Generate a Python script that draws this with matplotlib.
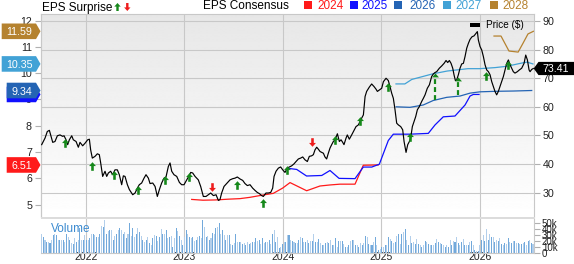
import numpy as np
import matplotlib
matplotlib.use("Agg")
import matplotlib.pyplot as plt
from matplotlib.path import Path
from matplotlib.patches import Polygon, Rectangle

plt.rcParams['font.family'] = ['Liberation Sans', 'DejaVu Sans']

# ------------------------------------------------------------------ data
price_dates_a = [2021.553, 2021.587, 2021.610, 2021.631, 2021.648, 2021.665, 2021.688, 2021.712, 2021.739, 2021.766,
                 2021.780, 2021.800, 2021.817, 2021.834, 2021.858, 2021.874, 2021.902, 2021.925, 2021.942, 2021.969,
                 2021.993, 2022.020, 2022.037, 2022.050, 2022.067, 2022.094, 2022.118, 2022.138, 2022.152, 2022.172,
                 2022.196, 2022.213, 2022.230, 2022.253, 2022.274, 2022.297, 2022.321, 2022.341, 2022.365, 2022.382,
                 2022.399, 2022.423, 2022.443, 2022.477, 2022.501, 2022.524, 2022.544, 2022.568, 2022.592, 2022.612,
                 2022.636, 2022.653, 2022.680, 2022.704, 2022.727, 2022.748, 2022.771, 2022.795, 2022.815, 2022.839,
                 2022.856, 2022.873, 2022.896, 2022.924, 2022.951, 2022.974, 2022.998, 2023.018, 2023.042, 2023.066,
                 2023.086, 2023.110, 2023.143, 2023.167, 2023.194, 2023.221, 2023.245, 2023.269, 2023.296, 2023.323,
                 2023.347, 2023.363, 2023.380, 2023.404, 2023.431]
price_vals_a = [46.8, 49.1, 51.4, 51.8, 49.7, 47.6, 47.9, 49.9, 50.2, 49.7,
                49.9, 48.5, 46.8, 48.5, 49.9, 48.5, 47.9, 45.9, 47.6, 46.4,
                47.3, 48.5, 48.7, 45.0, 42.1, 42.7, 43.6, 43.3, 40.4, 35.7,
                37.5, 35.7, 36.9, 37.5, 36.3, 38.0, 38.0, 36.3, 32.8, 35.9,
                35.7, 32.8, 31.1, 29.3, 29.9, 31.6, 32.8, 33.4, 35.1, 36.3,
                35.1, 33.2, 33.4, 32.2, 28.7, 31.1, 33.4, 35.1, 35.5, 39.2,
                40.4, 37.5, 36.3, 35.7, 33.6, 32.8, 32.8, 34.0, 35.5, 37.1,
                36.9, 35.7, 34.5, 32.2, 28.7, 28.7, 29.3, 29.9, 29.0, 29.3,
                27.3, 27.6, 29.9, 32.2, 33.2]

price_dates_b = [2023.465, 2023.492, 2023.516, 2023.539, 2023.567, 2023.594, 2023.617, 2023.641, 2023.668, 2023.695,
                 2023.719, 2023.742, 2023.763, 2023.786, 2023.803, 2023.830, 2023.854, 2023.878, 2023.898, 2023.912,
                 2023.932, 2023.956, 2023.979, 2024.000, 2024.023, 2024.047, 2024.067, 2024.091, 2024.115, 2024.135,
                 2024.159, 2024.182, 2024.203, 2024.226, 2024.250, 2024.270, 2024.294, 2024.311, 2024.328, 2024.345,
                 2024.362, 2024.379, 2024.396, 2024.413, 2024.429, 2024.446, 2024.463, 2024.480, 2024.497, 2024.514,
                 2024.531, 2024.555, 2024.575, 2024.592, 2024.609, 2024.622, 2024.643, 2024.656, 2024.676, 2024.700,
                 2024.724, 2024.744, 2024.768, 2024.785, 2024.802, 2024.819, 2024.836, 2024.852, 2024.879, 2024.903,
                 2024.927, 2024.947, 2024.961, 2024.981]
price_vals_b = [34.5, 34.9, 35.1, 35.5, 34.8, 34.3, 33.2, 32.5, 32.8, 31.6,
                30.8, 30.1, 29.7, 29.0, 28.7, 29.9, 29.9, 30.1, 31.6, 35.7,
                37.5, 38.6, 39.0, 38.0, 37.1, 38.6, 39.0, 39.4, 40.1, 40.9,
                41.8, 42.1, 42.5, 41.5, 40.9, 42.7, 42.9, 43.3, 45.0, 45.9,
                45.2, 44.4, 44.1, 43.8, 42.5, 41.8, 43.8, 45.6, 46.8, 47.9,
                48.5, 50.6, 47.9, 48.5, 47.6, 46.8, 49.1, 50.2, 48.7, 50.2,
                51.8, 53.1, 53.7, 54.9, 56.1, 57.2, 63.6, 65.4, 66.9, 68.0,
                67.1, 66.2, 65.4, 65.9]

price_dates_c = [2025.005, 2025.022, 2025.049, 2025.072, 2025.089, 2025.106, 2025.123, 2025.140, 2025.157, 2025.174,
                 2025.198, 2025.218, 2025.232, 2025.252, 2025.269, 2025.286, 2025.299, 2025.316, 2025.333, 2025.350,
                 2025.367, 2025.387, 2025.411, 2025.428, 2025.445, 2025.468, 2025.489, 2025.512, 2025.529, 2025.546,
                 2025.563, 2025.590, 2025.614, 2025.638, 2025.658, 2025.675, 2025.692, 2025.709, 2025.726, 2025.739,
                 2025.753, 2025.766, 2025.783, 2025.800, 2025.817, 2025.834, 2025.851, 2025.868, 2025.885, 2025.902,
                 2025.922, 2025.942, 2025.962, 2025.976, 2025.986, 2026.003, 2026.020, 2026.037, 2026.054, 2026.071,
                 2026.088, 2026.105, 2026.122, 2026.138, 2026.155, 2026.172, 2026.189, 2026.206, 2026.223, 2026.240,
                 2026.257, 2026.274, 2026.291, 2026.308, 2026.325, 2026.341, 2026.358, 2026.382, 2026.402, 2026.426,
                 2026.450, 2026.467, 2026.484, 2026.501, 2026.511, 2026.528, 2026.544]
price_vals_c = [66.5, 68.8, 70.0, 69.2, 67.1, 64.8, 63.0, 59.0, 54.3, 53.7,
                53.1, 52.0, 47.9, 44.1, 46.8, 47.9, 49.1, 53.1, 54.9, 56.6,
                59.0, 60.1, 61.9, 63.0, 64.2, 66.5, 67.7, 70.6, 71.5, 72.0,
                72.3, 73.5, 74.3, 75.2, 76.2, 75.5, 76.2, 75.2, 73.5, 71.2,
                69.2, 69.4, 71.2, 73.5, 75.0, 75.2, 77.6, 80.5, 82.2, 83.6,
                84.5, 84.8, 85.7, 86.3, 83.4, 81.1, 79.9, 77.6, 74.7, 72.9,
                72.3, 71.2, 68.8, 67.1, 65.4, 64.2, 65.4, 67.1, 68.8, 70.6,
                72.9, 75.2, 76.4, 74.7, 73.5, 72.3, 71.8, 72.3, 72.9, 73.5,
                75.2, 78.1, 76.4, 72.9, 72.3, 73.1, 73.41]

last_price = 73.41

eps2024_dates = [2023.076, 2023.19, 2023.314, 2023.45, 2023.566, 2023.668, 2023.803, 2023.904, 2023.999,
                 2024.074, 2024.243, 2024.378, 2024.48, 2024.581, 2024.734, 2024.818, 2024.97]
eps2024 = [5.20, 5.17, 5.18, 5.21, 5.23, 5.28, 5.37, 5.43, 5.63, 5.84, 5.53, 5.71, 5.75, 5.78, 5.78, 6.50, 6.51]

eps2025_dates = [2024.057, 2024.142, 2024.242, 2024.396, 2024.48, 2024.572, 2024.734, 2024.818, 2024.904, 2024.981,
                 2025.072, 2025.123, 2025.292, 2025.478, 2025.546, 2025.63, 2025.749, 2025.851, 2025.902, 2025.935,
                 2025.993]
eps2025 = [6.38, 6.34, 6.09, 6.11, 6.30, 6.00, 5.99, 6.43, 6.43, 6.54, 7.44, 7.68, 7.68, 7.71, 8.03, 8.34, 8.37,
           8.79, 9.13, 9.19, 9.19]

eps2026_dates = [2025.152, 2025.292, 2025.427, 2025.528, 2025.665, 2025.8, 2025.902, 2026.003, 2026.173, 2026.341,
                 2026.528]
eps2026 = [8.72, 8.70, 8.79, 8.96, 9.08, 9.13, 9.24, 9.29, 9.31, 9.32, 9.34]

eps2027_dates = [2025.15, 2025.24, 2025.31, 2025.52, 2025.67, 2025.88, 2026.0, 2026.155, 2026.275, 2026.41, 2026.48,
                 2026.54]
eps2027 = [9.59, 9.59, 9.76, 9.97, 10.08, 10.17, 10.17, 10.21, 10.26, 10.37, 10.42, 10.35]

eps2028_dates = [2026.145, 2026.216, 2026.297, 2026.39, 2026.44, 2026.49, 2026.545]
eps2028 = [11.41, 11.41, 10.84, 10.80, 11.14, 11.49, 11.59]

eps_years = ['2024', '2025', '2026', '2027', '2028']
eps_colors = ['#ff1a1a', '#1010ff', '#2464b4', '#42a2d6', '#b5822f']
eps_badge_labels = ['6.51', '', '9.34', '10.35', '11.59']

up_dates = [2021.79, 2022.067, 2022.287, 2022.534, 2022.805, 2023.052, 2023.533, 2023.797, 2024.047, 2024.531,
            2024.785, 2025.064, 2025.293, 2026.064, 2026.287]
up_prices = [47.3, 39.4, 36.3, 31.1, 34.5, 35.5, 32.8, 26.4, 37.8, 48.3, 54.9, 67.0, 49.3, 70.8, 74.7]
down_dates = [2023.285, 2024.301]
down_prices = [31.9, 47.6]
dashed_dates = [2025.547, 2025.775]
dashed_heads = [72.0, 70.6]
dashed_tails = [62.4, 64.3]

volume_k = [32, 27, 22, 19, 18, 17, 22, 31, 32, 31, 23, 23, 23, 22, 19, 33, 27, 22, 17, 16,
            25, 18, 23, 42, 22, 23, 31, 23, 23, 25, 32, 33, 31, 28, 28, 32, 46, 44, 56, 33,
            38, 39, 39, 23, 29, 32, 39, 42, 39, 32, 36, 25, 32, 51, 29, 42, 28, 32, 42, 36,
            29, 22, 19, 22, 28, 17, 14, 25, 31, 29, 21, 27, 40, 33, 32, 39, 25, 28, 29, 11,
            25, 42, 38, 29, 23, 14, 27, 39, 33, 28, 25, 27, 21, 22, 28, 29, 25, 56, 44, 28,
            29, 22, 25, 34, 33, 42, 44, 50, 32, 39, 31, 22, 31, 31, 16, 14, 17, 32, 18, 19,
            19, 16, 17, 14, 18, 16, 17, 18, 19, 25, 21, 22, 16, 25, 17, 19, 18, 22, 16, 33,
            39, 18, 28, 8, 11, 16, 19, 18, 31,
            31, 22, 21, 18, 17, 17, 22, 28, 26, 18, 18, 22, 17, 20, 21, 32, 18, 18, 24, 17,
            14, 14, 17, 18, 17, 22, 14, 13, 26, 11, 20, 21, 20, 16, 11, 10, 13, 21, 22, 22,
            13, 13, 10, 17, 13, 17, 29, 27, 16, 13, 13, 18, 27, 13, 6, 7, 10, 11, 13, 14,
            27, 24, 21, 17, 18, 29, 33, 16, 32, 35, 41, 22, 14, 29, 17, 18, 16, 24, 16, 13,
            11, 13, 21, 18, 16, 13, 14, 13, 17, 24, 18, 17, 16, 13, 11, 14, 10, 22, 13, 21,
            18, 27, 17, 13, 18, 24, 14, 13, 13, 18, 21, 13, 6, 4, 4, 13, 22, 31, 20, 41,
            22, 33, 27, 28, 18, 22, 21, 26, 16, 14, 17, 16, 26, 18, 17, 20, 20, 17, 17, 16,
            16, 17, 18, 13, 21, 22, 17, 16]
volume_first_date = 2021.553
volume_last_date = 2026.541

year_ticks = [2022, 2023, 2024, 2025, 2026]
year_labels = ['2022', '2023', '2024', '2025', '2026']
price_ticks = [30, 40, 50, 60, 70, 80, 90]
eps_ticks = [5, 6, 7, 8, 9, 10, 11, 12]
vol_ticks = [0, 10, 20, 30, 40, 50]
vol_labels = ['0', '10k', '20k', '30k', '40k', '50k']

# ------------------------------------------------------------------ layout helpers
W, H = 574, 264
XMIN, XMAX = 2021.546, 2026.548
PMIN, PMAX = 21.52, 92.45
EPS_A, EPS_B = 2.191, 0.10878   # eps = A + B * price


def p2e(p):
    return EPS_A + EPS_B * np.asarray(p, dtype=float)


def e2p(e):
    return (np.asarray(e, dtype=float) - EPS_A) / EPS_B


def fx(px):
    return px / W


def fy(py_top):
    return 1 - py_top / H


GRID = '#c8c8c8'
TICKC = '#b0b0b0'
TXT = '#222222'
GREEN = '#15881a'
RED = '#ee1c1c'

fig = plt.figure(figsize=(W / 100, H / 100), dpi=100)
L, R = 41, 533.7
ax = fig.add_axes([fx(L), fy(217), fx(R) - fx(L), fy(14) - fy(217)])
axv = fig.add_axes([fx(L), fy(253.2), fx(R) - fx(L), fy(219.3) - fy(253.2)])

# gradient background
grad = np.linspace(0.905, 1.0, 256).reshape(-1, 1)
ax.imshow(grad, cmap='gray', vmin=0, vmax=1, extent=[0, 1, 0, 1], transform=ax.transAxes,
          aspect='auto', zorder=0, interpolation='bilinear')
ax.set_xlim(XMIN, XMAX)
ax.set_ylim(PMIN, PMAX)
ax.set_axisbelow(True)

# grid
ax.set_xticks(year_ticks)
ax.set_yticks(price_ticks)
ax.grid(True, color=GRID, lw=0.8, zorder=0.5)
ax.yaxis.tick_right()
ax.tick_params(axis='y', length=4.5, width=0.8, color=TICKC, pad=2, labelsize=7.7, labelcolor=TXT)
ax.tick_params(axis='x', length=0, labelbottom=False)
for s in ['left', 'right', 'top']:
    ax.spines[s].set_color(GRID)
    ax.spines[s].set_linewidth(0.8)
ax.spines['bottom'].set_visible(False)

secax = ax.secondary_yaxis('left', functions=(p2e, e2p))
secax.set_yticks(eps_ticks)
secax.tick_params(length=4.5, width=0.8, color=TICKC, pad=2, labelsize=7.7, labelcolor=TXT)
secax.spines['left'].set_color(GRID)
secax.spines['left'].set_linewidth(0.8)

# EPS consensus lines
eps_series = [(eps2024_dates, eps2024), (eps2025_dates, eps2025), (eps2026_dates, eps2026),
              (eps2027_dates, eps2027), (eps2028_dates, eps2028)]
for (d, v), c in zip(eps_series, eps_colors):
    ax.plot(d, e2p(v), color=c, lw=0.9, zorder=3, solid_joinstyle='round')

# price line
price_dates = price_dates_a + price_dates_b + price_dates_c
price_vals = price_vals_a + price_vals_b + price_vals_c
ax.plot(price_dates, price_vals, color='black', lw=0.85, zorder=4)

# EPS surprise arrows
arrow_verts = [(0, 1), (0.8, 0.1), (0.3, 0.1), (0.3, -1), (-0.3, -1), (-0.3, 0.1), (-0.8, 0.1), (0, 1)]
up_path = Path(arrow_verts, closed=True)
down_path = Path([(x, -y) for x, y in arrow_verts], closed=True)
head_path = Path([(0, 0), (0.8, -0.9), (-0.8, -0.9), (0, 0)], closed=True)
ax.plot(up_dates, up_prices, ls='none', marker=up_path, ms=6.2, color=GREEN, mew=0, zorder=6)
ax.plot(down_dates, down_prices, ls='none', marker=down_path, ms=6.2, color=RED, mew=0, zorder=6)
for d, hd, tl in zip(dashed_dates, dashed_heads, dashed_tails):
    ax.plot([d, d], [tl, hd - 1.3], color=GREEN, lw=1.6, ls=(0, (2.2, 1.4)), zorder=6)
    ax.plot([d], [hd], ls='none', marker=head_path, ms=5.6, color=GREEN, mew=0, zorder=6)

# volume panel
axv.set_xlim(XMIN, XMAX)
axv.set_ylim(0, 57)
vdates = np.linspace(volume_first_date, volume_last_date, len(volume_k))
step = vdates[1] - vdates[0]
vcols = ['#b3cfeb' if i % 2 == 0 else '#72a9db' for i in range(len(volume_k))]
axv.bar(vdates, volume_k, width=step * 0.62, color=vcols, linewidth=0, zorder=2)
axv.set_xticks(year_ticks)
axv.set_xticklabels(year_labels)
axv.grid(True, axis='x', color=GRID, lw=0.8, zorder=0.5)
axv.set_axisbelow(True)
axv.yaxis.tick_right()
axv.set_yticks(vol_ticks)
axv.set_yticklabels(vol_labels)
axv.tick_params(axis='y', length=4.5, width=0.8, color=TICKC, pad=1.5, labelsize=7.0, labelcolor=TXT)
axv.tick_params(axis='x', length=0, pad=-0.6, labelsize=7.5, labelcolor=TXT)
for s in ['left', 'top']:
    axv.spines[s].set_visible(False)
for s in ['right', 'bottom']:
    axv.spines[s].set_color(GRID)
    axv.spines[s].set_linewidth(0.8)
fig.text(fx(51), fy(229), 'Volume', color='#3c8bd0', fontsize=8.5, ha='left', va='center')

# separator band
fig.add_artist(Rectangle((fx(L), fy(219.3)), fx(535) - fx(L), fy(216.8) - fy(219.3),
                         transform=fig.transFigure, facecolor='#dcdcdc', edgecolor='none', zorder=5))


# ------------------------------------------------------------------ value badges
def disp_y(price):
    return ax.transData.transform((XMIN, price))[1]


def badge_right(price, left_px, color, label, h=7.8, tip=40.5):
    cy = disp_y(price)
    verts = [(left_px, cy - h), (tip - 4.5, cy - h), (tip, cy), (tip - 4.5, cy + h), (left_px, cy + h)]
    fig.add_artist(Polygon([(x / W, y / H) for x, y in verts], closed=True, transform=fig.transFigure,
                           facecolor=color, edgecolor='none', zorder=10))
    if label:
        fig.text(((left_px + tip - 4.5) / 2 + 0.5) / W, cy / H, label, color='white', fontsize=7.7,
                 ha='center', va='center_baseline', zorder=11)


badge_order = [1, 0, 2, 3, 4]
for i in badge_order:
    val = eps_series[i][1][-1]
    lab = eps_badge_labels[i]
    left = 6.7 if len(lab) <= 4 else 1.7
    badge_right(e2p(val), left, eps_colors[i], lab)

cy = disp_y(last_price)
pv = [(533.7, cy), (538.5, cy + 6.6), (574, cy + 6.6), (574, cy - 6.6), (538.5, cy - 6.6)]
fig.add_artist(Polygon([(x / W, y / H) for x, y in pv], closed=True, transform=fig.transFigure,
                       facecolor='black', edgecolor='none', zorder=10))
fig.text(556 / W, cy / H, f'{last_price:.2f}', color='white', fontsize=7.7, ha='center',
         va='center_baseline', zorder=11)

# ------------------------------------------------------------------ legends
fig.text(fx(41.5), fy(10.7), 'EPS Surprise', fontsize=8.5, color='black', ha='left', va='baseline')


def legend_arrow(cx, cy_top, sx, sy, flip, color):
    verts = [(cx + x * sx, H - cy_top + (y if not flip else -y) * sy) for x, y in arrow_verts]
    fig.add_artist(Polygon([(x / W, y / H) for x, y in verts], closed=True, transform=fig.transFigure,
                           facecolor=color, edgecolor='none', zorder=10))


legend_arrow(117.5, 7, 4.0, 4.0, False, GREEN)
legend_arrow(127.3, 7, 4.0, 4.0, True, RED)

fig.text(fx(202.7), fy(9.2), 'EPS Consensus', fontsize=8.5, color='black', ha='left', va='baseline')
sq_x = [304, 350, 394.3, 443.3, 490]
tx_x = [317.3, 361.7, 409.3, 455.7, 502.7]
for yr, c, sx, tx in zip(eps_years, eps_colors, sq_x, tx_x):
    fig.add_artist(Rectangle((fx(sx), fy(8.6)), 7.6 / W, 7.6 / H, transform=fig.transFigure,
                             facecolor=c, edgecolor='none'))
    fig.text(fx(tx), fy(9.2), yr, fontsize=8.5, color=c, ha='left', va='baseline')

fig.add_artist(Rectangle((fx(470), fy(27.3)), 10 / W, 4.6 / H, transform=fig.transFigure,
                         facecolor='black', edgecolor='none', zorder=7))
fig.text(fx(486), fy(28.3), 'Price ($)', fontsize=7.2, color='black', ha='left', va='baseline', zorder=7)

fig.savefig('out.png', dpi=100, facecolor='white')
